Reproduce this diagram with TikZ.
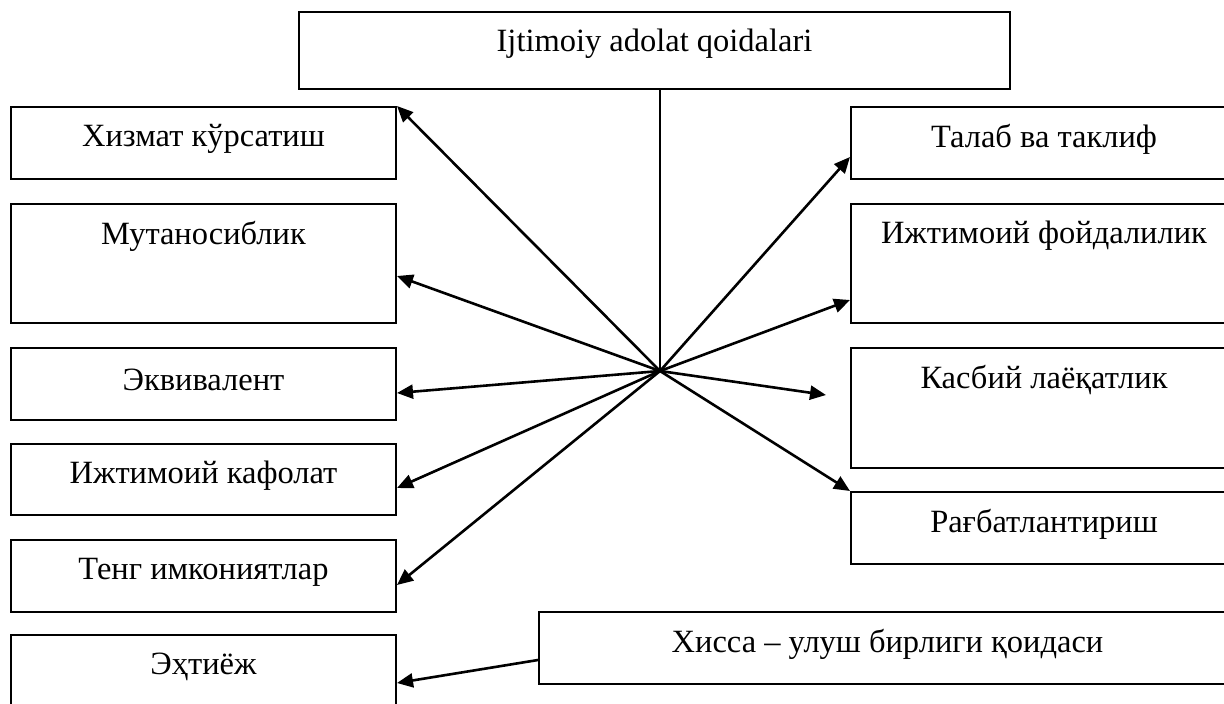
\documentclass[tikz,border=0pt]{standalone}
\usepackage{fontspec}
\setmainfont{Liberation Serif}
\usetikzlibrary{arrows.meta, calc}

\tikzset{
  box/.style={draw, line width=1bp, minimum width=192.5bp, minimum height=36bp, inner sep=0pt},
  lbl/.style={anchor=center, yshift=-16.5bp, inner sep=0pt},
  arr/.style={line width=1.3bp, -{Triangle[length=8bp, width=7bp]}}
}

\begin{document}
\begin{tikzpicture}[x=0.5bp, y=-0.5bp, font=\fontsize{16.3}{19}\selectfont]
  \useasboundingbox (0,0) rectangle (1224,703);
  \clip (0,0) rectangle (1224,703);

  % top
  \node[box, minimum width=355.5bp, minimum height=38.5bp, label={[lbl]north:Ijtimoiy adolat qoidalari}] (top) at (654.5,50.5) {};
  \coordinate (hub) at (660,371);

  % left column
  \node[box, label={[lbl]north:Хизмат кўрсатиш}] (xizmat) at (203.5,143) {};
  \node[box, minimum height=59.5bp, label={[lbl]north:Мутаносиблик}] (mutan) at (203.5,263.5) {};
  \node[box, label={[lbl]north:Эквивалент}] (ekviv) at (203.5,384) {};
  \node[box, minimum height=35.5bp, label={[lbl]north:Ижтимоий кафолат}] (kafolat) at (203.5,479.5) {};
  \node[box, label={[lbl]north:Тенг имкониятлар}] (teng) at (203.5,576) {};
  \node[box, label={[lbl]north:Эҳтиёж}] (extiyoj) at (203.5,671) {};

  % right column
  \node[box, minimum width=193bp, label={[lbl]north:Талаб ва таклиф}] (talab) at (1044,143) {};
  \node[box, minimum width=193bp, minimum height=59.5bp, label={[lbl]north:Ижтимоий фойдалилик}] (foyda) at (1044,263.5) {};
  \node[box, minimum width=193bp, minimum height=60bp, label={[lbl]north:Касбий лаёқатлик}] (kasbiy) at (1044,408) {};
  \node[box, minimum width=193bp, label={[lbl]north:Рағбатлантириш}] (ragbat) at (1044,528) {};

  % bottom
  \node[box, minimum width=348.5bp, label={[lbl]north:Хисса – улуш бирлиги қоидаси}] (hissa) at (887.5,648) {};

  \draw[line width=0.8bp] (hub |- top.south) -- (hub);

  \draw[arr] (hub) -- (xizmat.north east);
  \draw[arr] (hub) -- ($(mutan.east)+(0,12.5)$);
  \draw[arr] (hub) -- ($(ekviv.east)+(0,9)$);
  \draw[arr] (hub) -- ($(kafolat.east)+(0,8.5)$);
  \draw[arr] (hub) -- ($(teng.east)+(0,9)$);
  \draw[arr] (hub) -- ($(talab.west)+(0,14)$);
  \draw[arr] (hub) -- ($(foyda.west)+(0,36.5)$);
  \draw[arr] (hub) -- ($(kasbiy.west)+(-24,-13)$);
  \draw[arr] (hub) -- (ragbat.north west);
  \draw[arr] ($(hissa.west)+(0,12)$) -- ($(extiyoj.east)+(0,12)$);
\end{tikzpicture}
\end{document}
